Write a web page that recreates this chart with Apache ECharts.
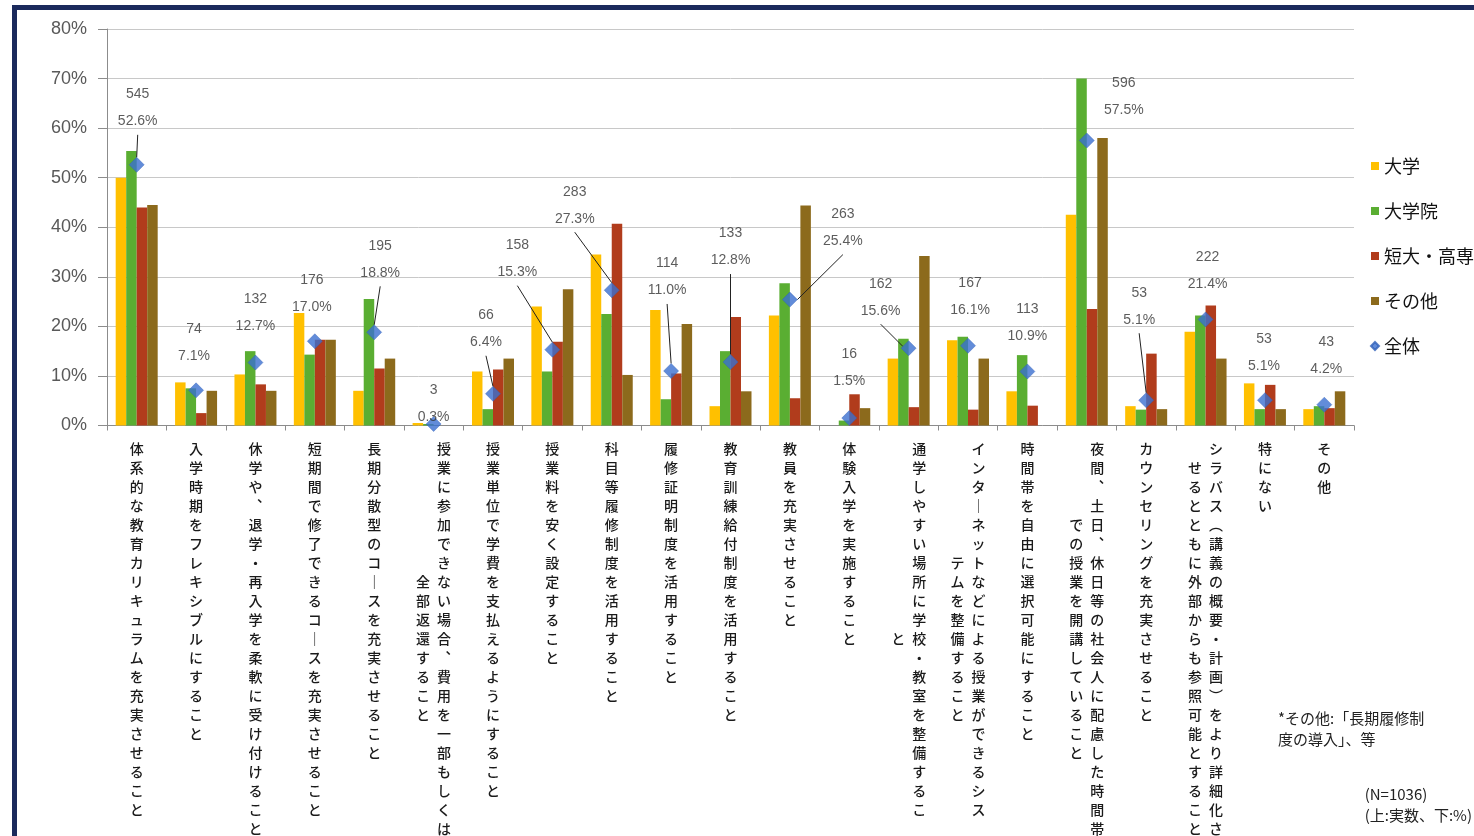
<!DOCTYPE html>
<html>
<head>
<meta charset="utf-8">
<script src="https://cdn.jsdelivr.net/npm/echarts@6/dist/echarts.min.js"></script>
<style>
html,body{margin:0;padding:0;background:#fff;}
#chart{position:absolute;left:0;top:0;width:1474px;height:836px;}
#frame{position:absolute;left:12px;top:5px;width:1480px;height:900px;border-top:5px solid #1b2a5c;border-left:5px solid #1b2a5c;pointer-events:none;box-sizing:border-box;}
</style>
</head>
<body>
<div id="chart"></div>
<div id="frame"></div>
<script>
// ---- data ----
const categories = [
  '体系的な教育カリキュラムを充実させること',
  '入学時期をフレキシブルにすること',
  '休学や、退学・再入学を柔軟に受け付けること',
  '短期間で修了できるコースを充実させること',
  '長期分散型のコースを充実させること',
  '授業に参加できない場合、費用を一部もしくは\n全部返還すること',
  '授業単位で学費を支払えるようにすること',
  '授業料を安く設定すること',
  '科目等履修制度を活用すること',
  '履修証明制度を活用すること',
  '教育訓練給付制度を活用すること',
  '教員を充実させること',
  '体験入学を実施すること',
  '通学しやすい場所に学校・教室を整備するこ\nと',
  'インターネットなどによる授業ができるシス\nテムを整備すること',
  '時間帯を自由に選択可能にすること',
  '夜間、土日、休日等の社会人に配慮した時間帯\nでの授業を開講していること',
  'カウンセリングを充実させること',
  'シラバス（講義の概要・計画）をより詳細化さ\nせるとともに外部からも参照可能とすること',
  '特にない',
  'その他'
];
const seriesNames = ['大学', '大学院', '短大・高専', 'その他', '全体'];
const daigaku  = [50.0, 8.7, 10.3, 22.7, 7.0, 0.5, 10.9, 24.0, 34.5, 23.3, 3.9, 22.2, 0.0, 13.5, 17.2, 6.9, 42.5, 3.9, 18.9, 8.5, 3.3];
const daigakuin= [55.4, 7.5, 15.0, 14.3, 25.5, 0.3, 3.3, 10.9, 22.5, 5.3, 15.0, 28.7, 1.0, 17.5, 17.9, 14.2, 70.0, 3.2, 22.2, 3.3, 3.9];
const tandai   = [44.0, 2.5, 8.3, 17.3, 11.5, 0.0, 11.3, 16.9, 40.7, 10.5, 21.9, 5.5, 6.3, 3.7, 3.2, 4.0, 23.5, 14.5, 24.2, 8.2, 3.5];
const sonota   = [44.5, 7.0, 7.0, 17.3, 13.5, 0.0, 13.5, 27.5, 10.2, 20.5, 6.9, 44.4, 3.5, 34.2, 13.5, 0.0, 58.0, 3.3, 13.5, 3.3, 6.9];
const overall  = [52.6, 7.1, 12.7, 17.0, 18.8, 0.3, 6.4, 15.3, 27.3, 11.0, 12.8, 25.4, 1.5, 15.6, 16.1, 10.9, 57.5, 5.1, 21.4, 5.1, 4.2];
const counts   = [545, 74, 132, 176, 195, 3, 66, 158, 283, 114, 133, 263, 16, 162, 167, 113, 596, 53, 222, 53, 43];
const yTicks   = [0, 80, 10];

// ---- label placement (style only) ----
const labelShift = [[1,-57],[-2,-48],[0,-50],[-3,-48],[6,-73],[0,-20],[-7,-65],[-35,-91],[-37,-85],[-4,-94],[0,-115],[53,-72],[0,-50],[-28,-51],[2,-49],[0,-49],[37,-44],[-7,-94],[2,-49],[-1,-48],[2,-49]];
const leader = [1,0,0,0,1,0,1,1,1,1,1,1,0,1,0,0,0,1,0,0,0];

const vmap = {'ー':'｜','、':'︑','。':'︒','（':'︵','）':'︶','「':'﹁','」':'﹂'};
function vert(s){ return Array.from(s).map(ch => vmap[ch] || ch); }
function verticalize(label){
  const cols = label.split('\n').map(vert);
  const c1 = cols[0];
  if (cols.length === 1) return c1.map(ch => '{c|' + ch + '}').join('\n');
  const c2 = cols[1];
  const off = Math.round((c1.length - c2.length) / 2);
  const rows = [];
  for (let i = 0; i < c1.length; i++) {
    const j = i - off;
    const left = (j >= 0 && j < c2.length) ? c2[j] : '　';
    rows.push('{c|' + left + '}{c|' + c1[i] + '}');
  }
  return rows.join('\n');
}

const chart = echarts.init(document.getElementById('chart'), null, {renderer: 'canvas'});
const barColors = ['#ffc000', '#5aae32', '#b13c1c', '#8c6a1c'];
const barData = [daigaku, daigakuin, tandai, sonota];

const series = barData.map((d, k) => ({
  name: seriesNames[k], type: 'bar', data: d,
  barWidth: 10.5, barGap: '0%',
  itemStyle: {color: barColors[k]}
}));
series.push({
  name: seriesNames[4], type: 'scatter', z: 10,
  symbol: 'diamond', symbolSize: 15,
  itemStyle: {color: '#3b6fd0', borderColor: '#2f5fb8', borderWidth: 0.5},
  data: overall.map((v, i) => ({value: [i, v], labelLine: {show: !!leader[i]}})),
  label: {
    show: true, position: 'inside',
    formatter: p => counts[p.dataIndex] + '\n' + p.value[1].toFixed(1) + '%',
    fontSize: 14, lineHeight: 27, color: '#333',
    fontFamily: 'Liberation Sans, Noto Sans CJK JP'
  },
  labelLine: {show: true, lineStyle: {color: '#222', width: 1}},
  labelLayout: p => ({dx: labelShift[p.dataIndex][0], dy: labelShift[p.dataIndex][1]})
});

chart.setOption({
  animation: false,
  backgroundColor: '#ffffff',
  grid: {left: 107, right: 120, top: 29, bottom: 410, containLabel: false},
  legend: {
    orient: 'vertical', left: 1365, top: 152, itemGap: 27,
    itemWidth: 8, itemHeight: 8,
    textStyle: {fontSize: 18, color: '#111', fontFamily: 'Noto Sans CJK JP'},
    data: [
      {name: '大学', icon: 'rect'}, {name: '大学院', icon: 'rect'},
      {name: '短大・高専', icon: 'rect'}, {name: 'その他', icon: 'rect'},
      {name: '全体', icon: 'diamond'}
    ]
  },
  xAxis: {
    type: 'category', data: categories,
    axisLine: {lineStyle: {color: '#8c8c8c'}},
    axisTick: {show: true, length: 5, lineStyle: {color: '#8c8c8c'}},
    axisLabel: {
      interval: 0, margin: 14, formatter: verticalize,
      rich: {c: {width: 21, align: 'center', fontSize: 14, lineHeight: 19, color: '#1a1a1a', fontWeight: 500, fontFamily: 'Noto Sans CJK JP'}}
    }
  },
  yAxis: {
    type: 'value', min: yTicks[0], max: yTicks[1], interval: yTicks[2],
    axisLine: {show: true, lineStyle: {color: '#8c8c8c'}},
    axisTick: {show: true, length: 9, lineStyle: {color: '#8c8c8c'}},
    axisLabel: {formatter: '{value}%', margin: 20, fontSize: 18, color: '#595959', fontFamily: 'Liberation Sans'},
    splitLine: {lineStyle: {color: '#c8c8c8'}}
  },
  graphic: [
    {type: 'text', left: 1278, top: 708, style: {text: '*その他:「長期履修制\n度の導入」、等', fontSize: 15, lineHeight: 21, fill: '#222', fontFamily: 'Noto Sans CJK JP'}},
    {type: 'text', right: 2, top: 784, style: {text: '(N=1036)\n(上:実数、下:%)', fontSize: 15, lineHeight: 21, fill: '#222', align: 'right', fontFamily: 'Noto Sans CJK JP'}}
  ],
  series: series
});
</script>
</body>
</html>
